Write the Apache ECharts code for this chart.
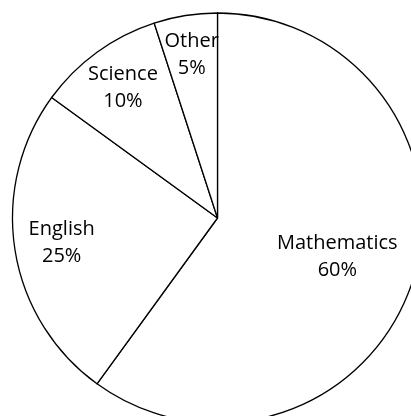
<!DOCTYPE html>
<html>
<head>
<meta charset="utf-8">
<script src="https://cdn.jsdelivr.net/npm/echarts@6/dist/echarts.min.js"></script>
<style>
html,body{margin:0;padding:0;background:#fff;}
#chart{width:411px;height:416px;}
</style>
</head>
<body>
<div id="chart"></div>
<script>
// Data
const categories = ['Mathematics', 'English', 'Science', 'Other'];
const shares = [60, 25, 10, 5];

// Style / layout constants
const CENTER = [217.5, 218];
const RADIUS = 205;
// radial distance of each label from centre, as a fraction of RADIUS
const labelRadiusFrac = [0.60, 0.755, 0.77, 0.79];
const FONT = '"Open Sans", sans-serif';

const pieData = categories.map((name, i) => ({ name: name, value: shares[i] }));

const series = [{
  type: 'pie',
  center: CENTER,
  radius: [0, RADIUS],
  startAngle: 90,
  clockwise: true,
  silent: true,
  animation: false,
  label: { show: false },
  labelLine: { show: false },
  itemStyle: { color: '#ffffff', borderColor: '#000000', borderWidth: 1.3 },
  data: pieData
}];

// one transparent thin ring per label, so each label sits at its own radius
categories.forEach((name, k) => {
  const d = labelRadiusFrac[k] * RADIUS;
  series.push({
    type: 'pie',
    center: CENTER,
    radius: [d - 1, d + 1],
    startAngle: 90,
    clockwise: true,
    silent: true,
    animation: false,
    avoidLabelOverlap: false,
    labelLine: { show: false },
    itemStyle: { color: 'rgba(0,0,0,0)', borderWidth: 0 },
    data: categories.map((n, i) => ({
      name: n,
      value: shares[i],
      label: {
        show: i === k,
        position: 'inside',
        formatter: '{b}\n{c}%',
        color: '#000',
        fontFamily: FONT,
        fontSize: 20,
        lineHeight: 27,
        align: 'center'
      }
    }))
  });
});

const chart = echarts.init(document.getElementById('chart'), null, { renderer: 'canvas' });
chart.setOption({
  backgroundColor: '#ffffff',
  animation: false,
  series: series
});
</script>
</body>
</html>
